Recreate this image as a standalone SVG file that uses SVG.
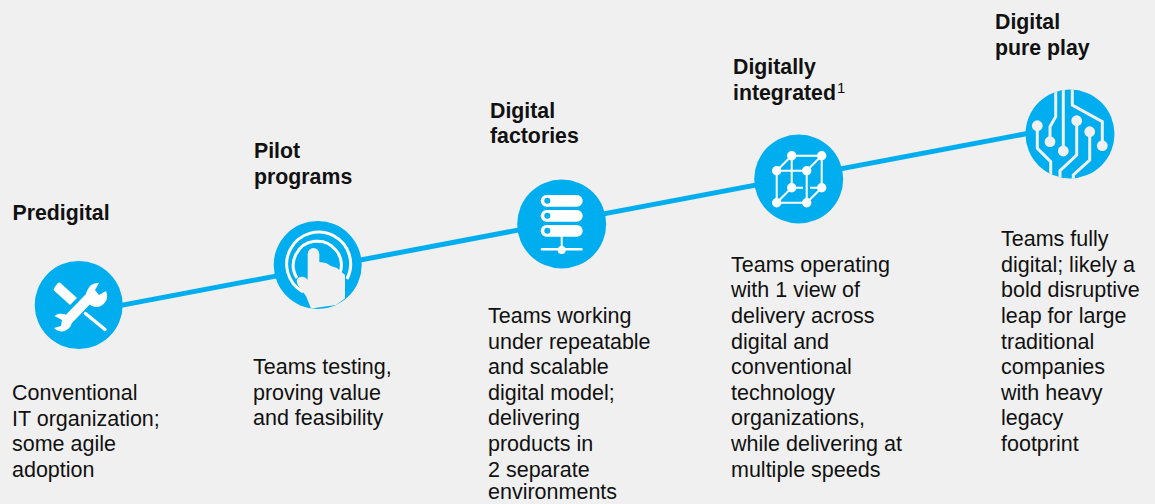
<svg xmlns="http://www.w3.org/2000/svg" width="1155" height="504" viewBox="0 0 1155 504">
<style>
text{font-family:"Liberation Sans",Arial,sans-serif;fill:#111}
.t{font-size:21.5px}
.h{font-size:21.3px;font-weight:700}
.c{fill:#00aeef}
.w{fill:#fff}
.l{stroke:#fff;stroke-width:2;fill:none}
.g{stroke:#f0f0f0;stroke-width:3;fill:none}
</style>
<defs><clipPath id="cp5"><circle cx="1070" cy="134" r="44.5"/></clipPath></defs>
<rect width="1155" height="504" fill="#f0f0f0"/>
<g id="connectors"><line x1="100" y1="309.400" x2="1050" y2="129.200" stroke="#00aeef" stroke-width="5"/></g>
<g id="predigital">
<circle class="c" cx="78.700" cy="305" r="44"/>
<path class="w" d="M54.500 287.500Q53 289.500 54 290.500L70 305L77 298L60.500 283Q59 282 57.500 283.500Z"/>
<path d="M85.500 313.500L105 329.500" stroke="#fff" stroke-width="3.500" stroke-linecap="round" fill="none"/>
<path d="M65 323L91 296" stroke="#fff" stroke-width="10" fill="none"/>
<path d="M107 294A11 11 0 0 1 92 306A11 11 0 0 1 87 291A11 11 0 0 1 99 283L95 290L99 295L106 291Z" class="w"/>
<path d="M54.500 316A11 11 0 0 1 72 322A11 11 0 0 1 62 331.500A11 11 0 0 1 54 328L61 326L62 320Z" class="w"/>
</g>
<g id="pilot-programs">
<circle class="c" cx="317.700" cy="265" r="44"/>
<path class="l" style="stroke-width:3" d="M303 292A32 32 0 1 1 347 279"/>
<path class="l" style="stroke-width:3" d="M297 278A24 24 0 1 1 340 273"/>
<path fill="#f0f0f0" d="M307.700 254A5.800 6 0 0 1 319.300 254V262L326 263L331 266L337 268L345 275V298.500L336 305L311 308.500L306 296L299 287Q296 282 297 279Q301 275 306 278L307.700 280Z"/>
</g>
<g id="digital-factories">
<circle class="c" cx="561.700" cy="224" r="44.500"/>
<rect class="w" x="540.700" y="195" width="42" height="11.700" rx="5.800"/>
<rect class="w" x="540.700" y="210" width="42" height="11.700" rx="5.800"/>
<rect class="w" x="540.700" y="225" width="42" height="11.700" rx="5.800"/>
<circle class="c" cx="547.300" cy="200.700" r="3"/>
<circle class="c" cx="547.300" cy="215.700" r="3"/>
<circle class="c" cx="547.300" cy="230.700" r="3"/>
<path class="c" d="M552 222.500h12v1.500h-12z"/>
<path class="l" d="M561.700 236V250"/>
<rect class="w" x="540.700" y="248" width="42" height="2.600" rx="1.300"/>
<circle class="w" cx="561.700" cy="250" r="4"/>
</g>
<g id="digitally-integrated">
<circle class="c" cx="798.700" cy="179" r="44.500"/>
<path class="l" d="M776.700 170.700H806.700V202.700H776.700ZM791.700 155.700H821.700V187.700M776.700 170.700L791.700 155.700M806.700 170.700L821.700 155.700M776.700 202.700L791.700 187.700M806.700 202.700L821.700 187.700M791.700 155.700V187.700H803M810 187.700H821.700"/>
<g class="w"><circle cx="791.700" cy="155.700" r="4.700"/><circle cx="821.700" cy="155.700" r="4.700"/><circle cx="791.700" cy="187.700" r="4.700"/><circle cx="821.700" cy="187.700" r="4.700"/><circle cx="776.700" cy="170.700" r="4.700"/><circle cx="806.700" cy="170.700" r="4.700"/><circle cx="776.700" cy="202.700" r="4.700"/><circle cx="806.700" cy="202.700" r="4.700"/></g>
</g>
<g id="digital-pure-play">
<circle class="c" cx="1070" cy="134" r="44.500"/>
<g clip-path="url(#cp5)">
<path class="g" d="M1037.300 125.700V148.300L1050.700 161.700V185"/>
<path class="g" d="M1050 141.700V126.700L1055.700 116.700V85"/>
<path class="g" d="M1063.300 151V85"/>
<path class="g" d="M1072.300 85V105L1102.300 121.700V145.700"/>
<path class="g" d="M1076.700 120.700V155L1060 170.700V185"/>
<path class="g" d="M1089.700 131.700V160L1073.300 175V185"/>
</g>
<g fill="#f0f0f0"><circle cx="1037.300" cy="125.700" r="5.400"/><circle cx="1050" cy="141.700" r="5.400"/><circle cx="1063.300" cy="151" r="5.400"/><circle cx="1076.700" cy="120.700" r="5.400"/><circle cx="1089.700" cy="131.700" r="5.400"/><circle cx="1102.300" cy="145.700" r="5.400"/></g>
</g>
<g id="labels">
<text class="h" x="12.500" y="220">Predigital</text>
<text class="t" x="12" y="400">Conventional</text>
<text class="t" x="12" y="426">IT organization;</text>
<text class="t" x="12" y="451">some agile</text>
<text class="t" x="12" y="477">adoption</text>
<text class="h" x="254" y="158">Pilot</text>
<text class="h" x="254" y="184">programs</text>
<text class="t" x="253" y="374">Teams testing,</text>
<text class="t" x="253" y="400">proving value</text>
<text class="t" x="253" y="425">and feasibility</text>
<text class="h" x="490" y="118">Digital</text>
<text class="h" x="490" y="143">factories</text>
<text class="t" x="488" y="323">Teams working</text>
<text class="t" x="488" y="349">under repeatable</text>
<text class="t" x="488" y="374">and scalable</text>
<text class="t" x="488" y="400">digital model;</text>
<text class="t" x="488" y="425">delivering</text>
<text class="t" x="488" y="451">products in</text>
<text class="t" x="488" y="477">2 separate</text>
<text class="t" x="488" y="499">environments</text>
<text class="h" x="733" y="74">Digitally</text>
<text class="h" x="733" y="100">integrated<tspan font-size="15" font-weight="400" dx="1" dy="-7">1</tspan></text>
<text class="t" x="731" y="272">Teams operating</text>
<text class="t" x="731" y="297">with 1 view of</text>
<text class="t" x="731" y="323">delivery across</text>
<text class="t" x="731" y="349">digital and</text>
<text class="t" x="731" y="374">conventional</text>
<text class="t" x="731" y="400">technology</text>
<text class="t" x="731" y="425">organizations,</text>
<text class="t" x="731" y="451">while delivering at</text>
<text class="t" x="731" y="477">multiple speeds</text>
<text class="h" x="995" y="29">Digital</text>
<text class="h" x="995" y="55">pure play</text>
<text class="t" x="1001" y="246">Teams fully</text>
<text class="t" x="1001" y="272">digital; likely a</text>
<text class="t" x="1001" y="297">bold disruptive</text>
<text class="t" x="1001" y="323">leap for large</text>
<text class="t" x="1001" y="349">traditional</text>
<text class="t" x="1001" y="374">companies</text>
<text class="t" x="1001" y="400">with heavy</text>
<text class="t" x="1001" y="425">legacy</text>
<text class="t" x="1001" y="451">footprint</text>
</g>
</svg>
